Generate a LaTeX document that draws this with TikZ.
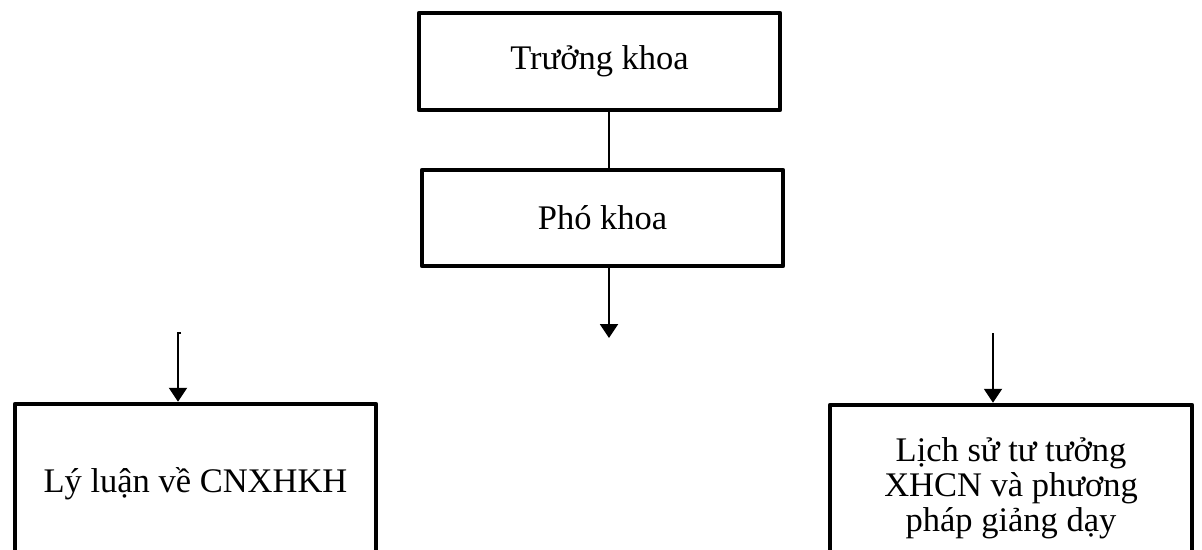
\documentclass[tikz,border=0pt]{standalone}
\usepackage{fontspec}
\setmainfont{Liberation Serif}
\usetikzlibrary{arrows.meta,calc}
\begin{document}
\begin{tikzpicture}[x=1pt,y=-1pt,
  box/.style={draw,line width=4.5pt,line join=round,align=center,inner sep=0pt,
    font=\fontsize{34.5}{35}\selectfont},
  arr/.style={line width=2pt,-{Triangle[width=18pt,length=14pt]}},
  conn/.style={line width=2pt}]
\path[use as bounding box] (0,0) rectangle (1202,549);
\clip (0,0) rectangle (1202,549);
\node[box,minimum width=361pt,minimum height=97pt] (top) at (599.5,61.5) {Trưởng khoa};
\node[box,minimum width=361pt,minimum height=96pt] (pho) at (602.5,218) {Phó khoa};
\node[box,minimum width=361pt,minimum height=160pt] (left) at (195.5,484) {Lý luận về CNXHKH};
\node[box,minimum width=362pt,minimum height=166pt] (right) at (1011,488) {Lịch sử tư tưởng\\XHCN và phương\\pháp giảng dạy};
\coordinate (c1) at (609,338);
\coordinate (l0) at (178,333);
\coordinate (r0) at (993,333);
\draw[conn] (top.south -| c1) -- (pho.north -| c1);
\draw[arr] (pho.south -| c1) -- (c1);
\draw[arr] ($(l0)+(3,0)$) -- (l0) -- (l0 |- left.north);
\draw[arr] (r0) -- (r0 |- right.north);
\end{tikzpicture}
\end{document}
